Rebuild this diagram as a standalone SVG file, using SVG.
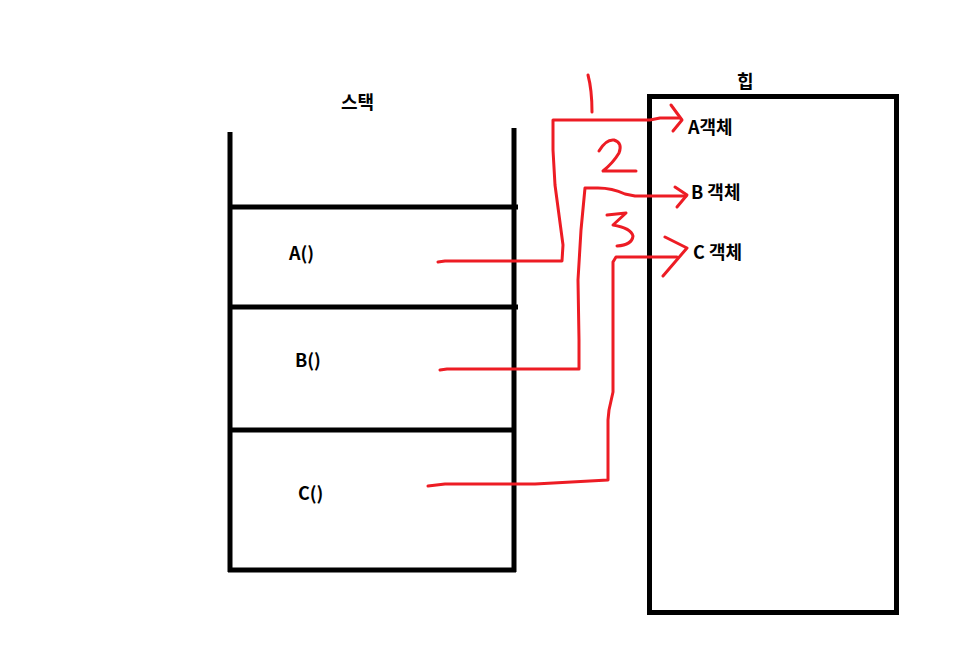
<svg xmlns="http://www.w3.org/2000/svg" width="976" height="659" viewBox="0 0 976 659">
<style>
.blk{stroke:#000;stroke-width:5;fill:none;stroke-linecap:butt}
.red{stroke:#ED1C24;stroke-width:3;fill:none;stroke-linecap:round;stroke-linejoin:round}
text{font-family:"Noto Sans CJK KR","Liberation Sans",sans-serif;font-weight:bold;font-size:18px;fill:#000}
</style>
<rect width="976" height="659" fill="#fff"/>
<g id="stack">
<path class="blk" d="M230,132 V572 M514,128 V572 M228,570 H516"/>
<path class="blk" d="M230,207 H518 M230,307 H518 M230,430 H514"/>
<text x="341" y="109">스택</text>
</g>
<g id="frameA"><text x="289" y="260">A()</text></g>
<g id="frameB"><text x="295" y="367">B()</text></g>
<g id="frameC"><text x="298" y="500">C()</text></g>
<g id="heap">
<rect class="blk" x="649.5" y="96.5" width="247" height="516"/>
<text x="737" y="88">힙</text>
</g>
<g id="objA"><text x="688" y="134">A객체</text></g>
<g id="objB"><text x="691" y="199">B 객체</text></g>
<g id="objC"><text x="693" y="259">C 객체</text></g>
<g id="connectors">
<path class="red" d="M438,262 L445,261 H562 L563,245 L559,215 L555,185 L553,150 L553,120 H650 L660,118 H680"/>
<path class="red" d="M671,105 L682,120 L673,131"/>
<path class="red" d="M588,75 Q592,90 592,112"/>
<path class="red" d="M599,151 Q606,139 614,140 Q623,143 619,153 Q613,163 603,171 H636"/>
<path class="red" d="M440,370 L447,369 H579 V340 L578,280 L581,230 L585,188 H598 Q612,188 625,194 L635,196 H686"/>
<path class="red" d="M675,187 L687,195 L677,207"/>
<path class="red" d="M607,215 L626,213 L613,225 Q631,228 633,236 Q632,245 617,246"/>
<path class="red" d="M428,486 L445,484 L460,484 H535 L608,480 V420 L609,410 L613,392 V262 L616,257 H677"/>
<path class="red" d="M665,237 L687,248 L663,276"/>
</g>
</svg>
